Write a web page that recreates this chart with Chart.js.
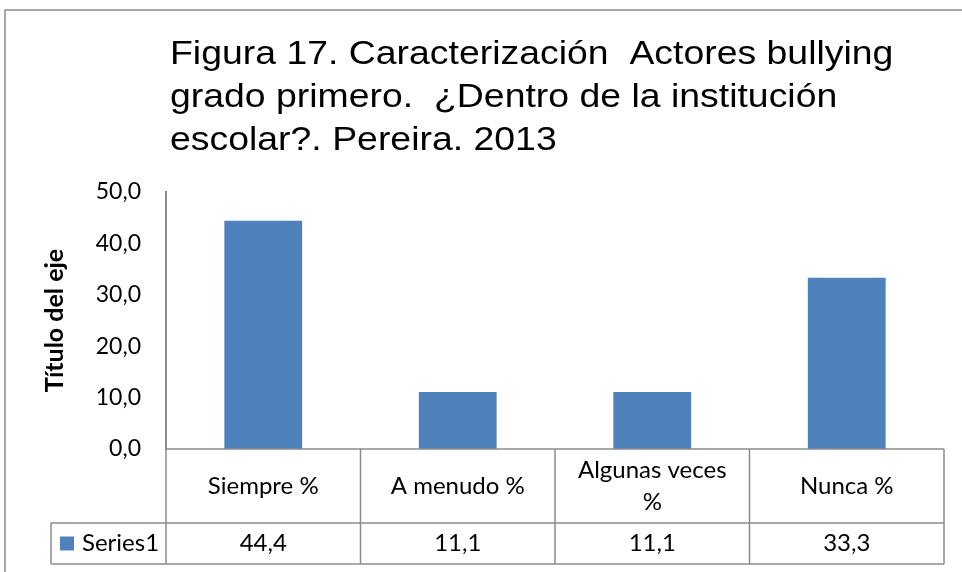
<!DOCTYPE html>
<html>
<head>
<meta charset="utf-8">
<script src="https://cdn.jsdelivr.net/npm/chart.js@4.4.1/dist/chart.umd.min.js"></script>
<style>
  html, body { margin: 0; padding: 0; background: #ffffff; }
  #wrap { width: 962px; height: 572px; position: relative; }
</style>
</head>
<body>
<div id="wrap"><canvas id="chart" width="962" height="572"></canvas></div>
<script>
// Data
const titleLines = [
  'Figura 17. Caracterización  Actores bullying',
  'grado primero.  ¿Dentro de la institución',
  'escolar?. Pereira. 2013'
];
const categories = ['Siempre %', 'A menudo %', ['Algunas veces', '%'], 'Nunca %'];
const seriesName = 'Series1';
const values = [44.4, 11.1, 11.1, 33.3];
const yMin = 0;
const yMax = 50;
const yStep = 10;
const yAxisTitle = 'Título del eje';

// Styles
const BAR_COLOR = '#4F81BD';
const LINE_COLOR = '#8c8c8c';
const TEXT_FONT = 'Lato, Calibri, sans-serif';

function fmt(v) {
  return v.toFixed(1).replace('.', ',');
}

// Frame, title and data table drawn around the chart area
const tablePlugin = {
  id: 'excelTable',
  beforeDraw(chart) {
    const c = chart.ctx;
    c.save();
    c.fillStyle = '#ffffff';
    c.fillRect(0, 0, chart.width, chart.height);
    // outer frame
    c.strokeStyle = LINE_COLOR;
    c.lineWidth = 1.5;
    c.beginPath();
    c.moveTo(5, chart.height);
    c.lineTo(5, 10);
    c.lineTo(chart.width, 10);
    c.stroke();
    // title (slightly wide, like the original)
    c.fillStyle = '#000000';
    c.font = '34px "Liberation Sans", Arial, sans-serif';
    c.textAlign = 'left';
    c.textBaseline = 'alphabetic';
    c.translate(170, 0);
    c.scale(1.1, 1);
    titleLines.forEach((line, i) => {
      c.fillText(line, 0, 64 + i * 43);
    });
    c.restore();
  },
  afterDraw(chart) {
    const c = chart.ctx;
    const x = chart.scales.x;
    const area = chart.chartArea;
    const n = categories.length;
    const colW = (area.right - area.left) / n;
    const top = area.bottom;
    const mid = top + 74;
    const bottom = mid + 41;
    const legendLeft = 51;

    c.save();
    c.strokeStyle = LINE_COLOR;
    c.lineWidth = 1.5;
    c.beginPath();
    // horizontal lines
    c.moveTo(area.left, top); c.lineTo(area.right, top);
    c.moveTo(legendLeft, mid); c.lineTo(area.right, mid);
    c.moveTo(legendLeft, bottom); c.lineTo(area.right, bottom);
    // vertical lines at category edges
    for (let i = 0; i <= n; i++) {
      const px = i < n ? x.getPixelForValue(i) - colW / 2 : x.getPixelForValue(n - 1) + colW / 2;
      c.moveTo(px, top); c.lineTo(px, bottom);
    }
    c.moveTo(legendLeft, mid); c.lineTo(legendLeft, bottom);
    c.stroke();

    c.fillStyle = '#000000';
    c.font = '24px ' + TEXT_FONT;
    c.textAlign = 'center';
    c.textBaseline = 'middle';
    categories.forEach((cat, i) => {
      const cx = x.getPixelForValue(i);
      const lines = Array.isArray(cat) ? cat : [cat];
      const lh = 32;
      const y0 = (top + mid) / 2 - (lines.length - 1) * lh / 2;
      lines.forEach((l, j) => c.fillText(l, cx, y0 + j * lh));
      c.fillText(fmt(values[i]), cx, (mid + bottom) / 2);
    });

    // legend key + series name
    const rowY = (mid + bottom) / 2;
    c.fillStyle = BAR_COLOR;
    c.fillRect(60, rowY - 7, 14, 14);
    c.fillStyle = '#000000';
    c.textAlign = 'left';
    c.fillText(seriesName, 82, rowY);
    c.restore();
  }
};

const ctx = document.getElementById('chart').getContext('2d');
const chart = new Chart(ctx, {
  type: 'bar',
  data: {
    labels: categories,
    datasets: [{
      label: seriesName,
      data: values,
      backgroundColor: BAR_COLOR,
      borderColor: BAR_COLOR,
      borderWidth: 0,
      barPercentage: 0.4,
      categoryPercentage: 1.0
    }]
  },
  options: {
    responsive: false,
    animation: false,
    events: [],
    layout: {
      padding: { left: 0, top: 192, right: 18, bottom: 123 }
    },
    plugins: {
      legend: { display: false },
      tooltip: { enabled: false },
      title: { display: false }
    },
    scales: {
      x: {
        display: false,
        offset: true
      },
      y: {
        min: yMin,
        max: yMax,
        afterFit(scale) { scale.width = 166; },
        grid: { display: false, drawTicks: false },
        border: { display: true, color: LINE_COLOR, width: 2 },
        ticks: {
          stepSize: yStep,
          padding: 25,
          color: '#000000',
          font: { family: TEXT_FONT, size: 23 },
          callback: (v) => fmt(v)
        },
        title: {
          display: true,
          text: yAxisTitle,
          color: '#000000',
          font: { family: TEXT_FONT, size: 25, weight: 'bold' },
          padding: { top: 40, bottom: 0 }
        }
      }
    }
  },
  plugins: [tablePlugin]
});
</script>
</body>
</html>
